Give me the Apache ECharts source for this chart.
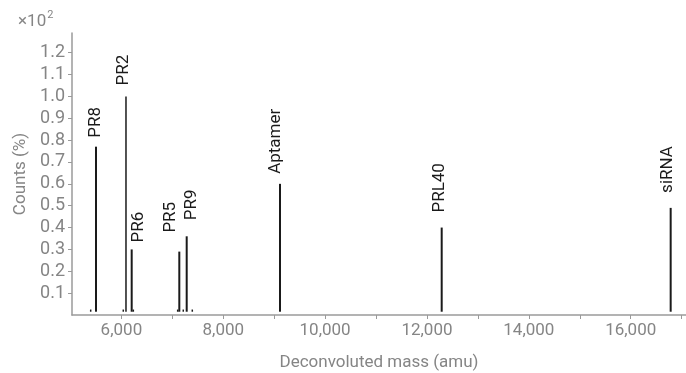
<!DOCTYPE html>
<html>
<head>
<meta charset="utf-8">
<script src="https://cdn.jsdelivr.net/npm/echarts@6/dist/echarts.min.js"></script>
<style>
  html, body { margin: 0; padding: 0; background: #fff; }
  #chart { width: 686px; height: 373px; }
</style>
</head>
<body>
<div id="chart"></div>
<script>
// Deconvoluted mass spectrum: main species and minor baseline peaks
const peakNames  = ['PR8', 'PR2', 'PR6', 'PR5', 'PR9', 'Aptamer', 'PRL40', 'siRNA'];
const peakMasses = [5501, 6090, 6202, 7137, 7282, 9114, 12289, 16785];
const peakCounts = [0.77, 1.00, 0.30, 0.29, 0.36, 0.60, 0.40, 0.49];

const minorMasses = [5397, 6037, 6234, 7105, 7215, 7392];
const minorCounts = [0.025, 0.025, 0.025, 0.025, 0.025, 0.025];

const baseLevel = 0.015;

const xTickValues  = [6000, 7000, 8000, 9000, 10000, 11000, 12000, 13000, 14000, 15000, 16000, 17000];
const xLabelValues = [6000, 8000, 10000, 12000, 14000, 16000];
const yTickValues  = [0.1, 0.2, 0.3, 0.4, 0.5, 0.6, 0.7, 0.8, 0.9, 1.0, 1.1, 1.2];

// label placement tweaks (px): horizontal shift and gap above the peak top
const labelShift = { PR8: 0, PR2: -2, PR6: 7, PR5: -9, PR9: 5, Aptamer: -4, PRL40: -2, siRNA: -3 };
const labelGap   = { PR8: 9, PR2: 11, PR6: 7, PR5: 19, PR9: 16, Aptamer: 10, PRL40: 15, siRNA: 15 };
const lineWidths = { PR2: 1.5 };

const FONT = 'Roboto';
const GREY = '#858585';

const chart = echarts.init(document.getElementById('chart'));

function stick(api, width) {
  const x = api.value(0), v = api.value(1);
  const top = api.coord([x, v]);
  const bot = api.coord([x, baseLevel]);
  return {
    type: 'line',
    shape: { x1: top[0], y1: top[1], x2: bot[0], y2: bot[1] },
    style: { stroke: '#1a1a1a', lineWidth: width }
  };
}

chart.setOption({
  animation: false,
  grid: { left: 72, right: 0, top: 33, bottom: 58, containLabel: false, outerBoundsMode: 'none' },
  graphic: [{
    type: 'text',
    left: 18, top: 10,
    style: {
      text: '{b|×10}{s|2}',
      fontFamily: FONT,
      rich: {
        b: { fontFamily: FONT, fontSize: 17, fill: GREY, color: GREY, verticalAlign: 'bottom', lineHeight: 20 },
        s: { fontFamily: FONT, fontSize: 11, fill: GREY, color: GREY, verticalAlign: 'top', lineHeight: 20, padding: [0, 0, 8, 1] }
      }
    }
  }],
  xAxis: {
    type: 'value',
    min: 5030, max: 17086,
    name: 'Deconvoluted mass (amu)',
    nameLocation: 'middle',
    nameGap: 39,
    nameTextStyle: { fontFamily: FONT, fontSize: 17, color: GREY },
    axisLine: { lineStyle: { color: '#9a9a9a', width: 1.5 } },
    axisTick: { customValues: xTickValues, length: 4, lineStyle: { color: '#9a9a9a' } },
    axisLabel: {
      customValues: xLabelValues,
      margin: 7,
      fontFamily: FONT, fontSize: 17, color: GREY,
      formatter: v => v.toLocaleString('en-US')
    },
    splitLine: { show: false }
  },
  yAxis: {
    type: 'value',
    min: 0, max: 1.29,
    name: 'Counts (%)',
    nameLocation: 'middle',
    nameGap: 42,
    nameTextStyle: { fontFamily: FONT, fontSize: 17, color: GREY },
    axisLine: { show: true, lineStyle: { color: '#9a9a9a', width: 1.5 } },
    axisTick: { show: true, customValues: yTickValues, length: 4, lineStyle: { color: '#9a9a9a' } },
    axisLabel: {
      customValues: yTickValues,
      margin: 7,
      fontFamily: FONT, fontSize: 18, color: GREY,
      formatter: v => v.toFixed(1)
    },
    splitLine: { show: false }
  },
  series: [
    {
      type: 'custom',
      name: 'minor',
      data: minorMasses.map((m, i) => [m, minorCounts[i]]),
      renderItem: (params, api) => stick(api, 1.5)
    },
    {
      type: 'custom',
      name: 'peaks',
      data: peakMasses.map((m, i) => [m, peakCounts[i]]),
      renderItem: (params, api) => {
        const name = peakNames[params.dataIndex];
        const top = api.coord([api.value(0), api.value(1)]);
        return {
          type: 'group',
          children: [
            stick(api, lineWidths[name] || 2),
            {
              type: 'text',
              x: top[0] + labelShift[name],
              y: top[1] - labelGap[name],
              rotation: Math.PI / 2,
              style: {
                text: name,
                fontFamily: FONT, fontSize: 17, fill: '#1a1a1a',
                align: 'left', verticalAlign: 'middle'
              }
            }
          ]
        };
      }
    }
  ]
});
</script>
</body>
</html>
